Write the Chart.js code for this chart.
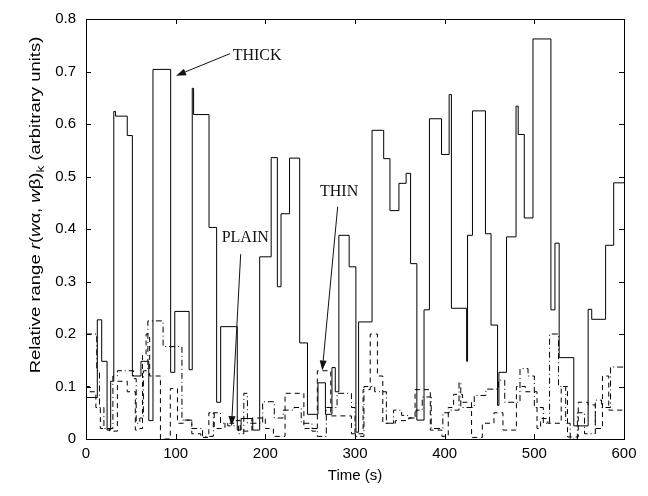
<!DOCTYPE html>
<html><head><meta charset="utf-8">
<script src="https://cdn.jsdelivr.net/npm/chart.js@4.4.1/dist/chart.umd.min.js"></script>
<style>html,body{margin:0;padding:0;background:#fff}</style>
</head><body>
<canvas id="c" width="648" height="496"></canvas>
<script>
// ---- data ----
const xTicks = [0, 100, 200, 300, 400, 500, 600];
const yTicks = [0, 0.1, 0.2, 0.3, 0.4, 0.5, 0.6, 0.7, 0.8];
const yTickLabels = ['0', '0.1', '0.2', '0.3', '0.4', '0.5', '0.6', '0.7', '0.8'];

const thickT = [0, 12.6, 17.5, 23.5, 27.5, 31, 33, 46, 51.7, 61.3, 70, 74.7, 94.4, 99, 115, 118.5, 120, 137.2, 145.7, 150.2, 168.7, 173, 186, 193.7, 206.5, 213.4, 217.5, 227, 238.3, 247, 258.7, 267, 274.3, 278, 282, 293.5, 301, 304, 319, 332, 339, 349, 357, 362, 369, 377, 383, 396.5, 405, 407.5, 424.5, 425.5, 431, 445.5, 451.7, 459, 460.5, 469, 479.6, 482, 488.8, 498.5, 518.5, 523, 527.7, 544, 560, 564, 579.5, 588.5, 600];
const thickV = [0.079, 0.227, 0.148, 0.017, 0.11, 0.624, 0.615, 0.578, 0.12, 0.148, 0.035, 0.704, 0.127, 0.243, 0.132, 0.668, 0.618, 0.403, 0.07, 0.214, 0.017, 0.039, 0.017, 0.347, 0.536, 0.29, 0.429, 0.535, 0.183, 0.047, 0.107, 0.047, 0.136, 0.09, 0.388, 0.328, 0.013, 0.223, 0.588, 0.534, 0.435, 0.487, 0.506, 0.334, 0.036, 0.246, 0.61, 0.542, 0.656, 0.249, 0.148, 0.388, 0.625, 0.391, 0.217, 0.064, 0.127, 0.385, 0.634, 0.58, 0.421, 0.762, 0.246, 0.373, 0.155, 0.025, 0.247, 0.228, 0.369, 0.488, 0.488];

const thinT = [0, 4, 11, 16, 26, 35, 46, 55, 60, 63, 67, 71, 83, 94, 102, 109, 118, 128, 137, 143, 155, 165, 172, 185, 200, 209, 222, 243, 252, 258, 273, 296, 309, 317, 325, 331, 345, 360, 367, 384, 397, 404, 410, 420, 430, 442, 455, 465, 480, 490, 503, 507, 515, 530, 537, 549, 560, 568, 576, 583, 600];
const thinV = [0.1, 0.09, 0.06, 0.02, 0.015, 0.11, 0.09, 0.017, 0.02, 0.16, 0.2, 0.12, 0.0, 0.096, 0.03, 0.036, 0.01, 0.003, 0.05, 0.02, 0.03, 0.035, 0.015, 0.04, 0.02, 0.005, 0.087, 0.02, 0.015, 0.13, 0.044, 0.01, 0.094, 0.2, 0.12, 0.03, 0.035, 0.04, 0.094, 0.017, 0.005, 0.06, 0.085, 0.07, 0.003, 0.03, 0.05, 0.017, 0.1, 0.09, 0.02, 0.039, 0.03, 0.1, 0.004, 0.07, 0.065, 0.02, 0.12, 0.055, 0.055];

const plainT = [0, 12, 15, 20, 30, 35, 53, 56, 60, 64, 69, 86, 107, 118, 130, 142, 150, 158, 170, 176, 180, 197, 210, 220, 232, 240, 252, 258, 268, 280, 296, 300, 310, 322, 335, 343, 352, 360, 368, 375, 385, 398, 405, 416, 418, 433, 446, 460, 467, 484, 493, 500, 510, 517, 527, 535, 540, 548, 556, 568, 575, 585, 595, 600];
const plainV = [0.2, 0.13, 0.06, 0.02, 0.12, 0.13, 0.115, 0.03, 0.04, 0.13, 0.225, 0.176, 0.036, 0.02, 0.005, 0.05, 0.03, 0.025, 0.01, 0.087, 0.03, 0.071, 0.04, 0.055, 0.06, 0.03, 0.02, 0.005, 0.06, 0.087, 0.06, 0.005, 0.1, 0.09, 0.03, 0.055, 0.045, 0.04, 0.055, 0.08, 0.02, 0.05, 0.055, 0.108, 0.06, 0.083, 0.095, 0.112, 0.07, 0.134, 0.12, 0.06, 0.03, 0.2, 0.1, 0.03, 0.0, 0.05, 0.01, 0.074, 0.06, 0.137, 0.137, 0.137];

// annotation labels (data coordinates)
const annLabels = ['THICK', 'PLAIN', 'THIN'];
const annTextPos = [[163.6, 0.7225], [151.3, 0.3745], [261, 0.463]];
const annArrowFrom = [[160.6, 0.734], [172.5, 0.352], [280.7, 0.4426]];
const annArrowTo = [[100.4, 0.692], [162.3, 0.0246], [263.5, 0.1305]];

const xTitle = 'Time (s)';
const yTitleParts = [
  ['Relative range ', 'n'], ['r', 'i'], ['(', 'n'], ['w', 'i'], ['\u03b1, ', 'n'],
  ['w', 'i'], ['\u03b2)', 'n'], ['k', 's'], [' (arbitrary units)', 'n']
];

const toXY = (T, V) => T.map((t, i) => ({x: t, y: V[i]}));

const FONT = '"Liberation Sans", Arial, Helvetica, sans-serif';

const framePlugin = {
  id: 'frame',
  afterDraw(chart) {
    const ctx = chart.ctx;
    const a = chart.chartArea;
    const xs = chart.scales.x, ys = chart.scales.y;
    ctx.save();
    ctx.strokeStyle = '#000';
    ctx.lineWidth = 1;
    ctx.strokeRect(Math.round(a.left) + 0.5, Math.round(a.top) + 0.5, Math.round(a.right - a.left), Math.round(a.bottom - a.top));
    const L = 5;
    ctx.beginPath();
    xTicks.forEach(v => {
      const p = Math.round(xs.getPixelForValue(v)) + 0.5;
      ctx.moveTo(p, a.bottom); ctx.lineTo(p, a.bottom - L);
      ctx.moveTo(p, a.top); ctx.lineTo(p, a.top + L);
    });
    yTicks.forEach(v => {
      const p = Math.round(ys.getPixelForValue(v)) + 0.5;
      ctx.moveTo(a.left, p); ctx.lineTo(a.left + L, p);
      ctx.moveTo(a.right, p); ctx.lineTo(a.right - L, p);
    });
    ctx.stroke();

    // annotations
    ctx.fillStyle = '#111';
    ctx.strokeStyle = '#111';
    ctx.font = '16px "Liberation Serif", "Times New Roman", serif';
    ctx.textAlign = 'left';
    ctx.textBaseline = 'alphabetic';
    annLabels.forEach((lab, i) => {
      ctx.fillText(lab, xs.getPixelForValue(annTextPos[i][0]), ys.getPixelForValue(annTextPos[i][1]));
      const x1 = xs.getPixelForValue(annArrowFrom[i][0]), y1 = ys.getPixelForValue(annArrowFrom[i][1]);
      const x2 = xs.getPixelForValue(annArrowTo[i][0]), y2 = ys.getPixelForValue(annArrowTo[i][1]);
      const ang = Math.atan2(y2 - y1, x2 - x1);
      const hl = 10, hw = 3.5;
      const bx = x2 - hl * Math.cos(ang), by = y2 - hl * Math.sin(ang);
      ctx.beginPath(); ctx.moveTo(x1, y1); ctx.lineTo(bx, by); ctx.lineWidth = 1; ctx.stroke();
      ctx.beginPath();
      ctx.moveTo(x2, y2);
      ctx.lineTo(bx + hw * Math.sin(ang), by - hw * Math.cos(ang));
      ctx.lineTo(bx - hw * Math.sin(ang), by + hw * Math.cos(ang));
      ctx.closePath(); ctx.fill();
    });

    // y-axis title with mixed styles (stretched along its length like the reference)
    const fN = '15px ' + FONT, fI = 'italic 15px ' + FONT, fS = '11px ' + FONT;
    const fontOf = s => s === 'i' ? fI : (s === 's' ? fS : fN);
    let total = 0;
    yTitleParts.forEach(([t, s]) => { ctx.font = fontOf(s); total += ctx.measureText(t).width; });
    const stretch = 1.23;
    ctx.translate(39.5, 205);
    ctx.rotate(-Math.PI / 2);
    ctx.scale(stretch, 1);
    ctx.fillStyle = '#000';
    let x = -total / 2;
    yTitleParts.forEach(([t, s]) => {
      ctx.font = fontOf(s);
      ctx.fillText(t, x, s === 's' ? 4 : 0);
      x += ctx.measureText(t).width;
    });
    ctx.restore();
  }
};

new Chart(document.getElementById('c'), {
  type: 'line',
  data: {
    datasets: [
      {label: 'THICK', data: toXY(thickT, thickV), stepped: 'before', borderColor: '#000', borderWidth: 1, pointRadius: 0, fill: false},
      {label: 'THIN', data: toXY(thinT, thinV), stepped: 'before', borderColor: '#000', borderWidth: 1, borderDash: [5, 4], pointRadius: 0, fill: false},
      {label: 'PLAIN', data: toXY(plainT, plainV), stepped: 'before', borderColor: '#000', borderWidth: 1, borderDash: [6, 3, 1, 3], pointRadius: 0, fill: false}
    ]
  },
  options: {
    responsive: false,
    animation: false,
    devicePixelRatio: 1,
    layout: {padding: {left: 0, right: 24, top: 16, bottom: 0}},
    plugins: {legend: {display: false}, tooltip: {enabled: false}},
    scales: {
      x: {
        type: 'linear', min: 0, max: 600,
        afterBuildTicks: s => { s.ticks = xTicks.map(v => ({value: v})); },
        afterFit: s => { s.height = 57; },
        grid: {display: false, drawTicks: false},
        border: {display: false},
        ticks: {color: '#000', font: {family: FONT, size: 15}, padding: 6, maxRotation: 0},
        title: {display: true, text: xTitle, color: '#000', font: {family: FONT, size: 15}, padding: {bottom: 11, top: 0}}
      },
      y: {
        type: 'linear', min: 0, max: 0.8,
        afterBuildTicks: s => { s.ticks = yTicks.map(v => ({value: v})); },
        afterFit: s => { s.width = 86; },
        grid: {display: false, drawTicks: false},
        border: {display: false},
        ticks: {color: '#000', font: {family: FONT, size: 15}, padding: 10, callback: (v) => yTickLabels[yTicks.indexOf(v)] ?? ''}
      }
    }
  },
  plugins: [framePlugin]
});
</script>
</body></html>
